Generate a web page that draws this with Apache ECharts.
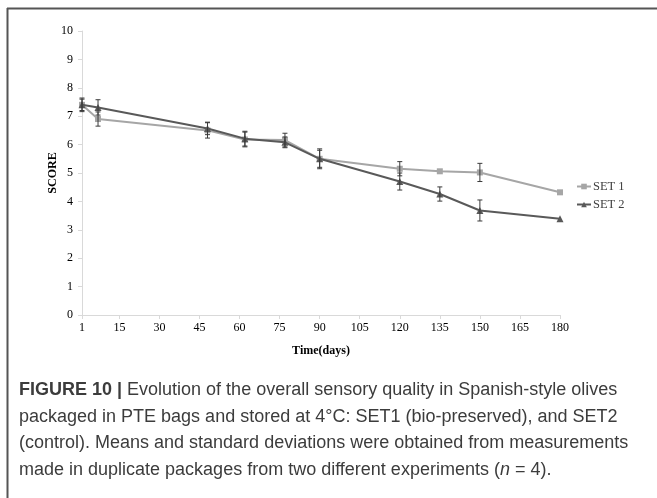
<!DOCTYPE html>
<html>
<head>
<meta charset="utf-8">
<script src="https://cdn.jsdelivr.net/npm/echarts@6/dist/echarts.min.js"></script>
<style>
html,body{margin:0;padding:0;background:#fff;}
#c{width:657px;height:498px;}
</style>
</head>
<body>
<div id="c"></div>
<script>
var days = [1, 7, 48, 62, 77, 90, 120, 135, 150, 180];
var set1 = [7.4, 6.9, 6.5, 6.18, 6.16, 5.5, 5.15, 5.06, 5.02, 4.32];
var set2 = [7.4, 7.31, 6.57, 6.21, 6.08, 5.5, 4.7, 4.26, 3.68, 3.39];
var set1Err = [0.2, 0.25, 0.27, 0.26, 0.24, 0.35, 0.25, 0, 0.32, 0];
var set2Err = [0.24, 0.27, 0.22, 0.26, 0.19, 0.3, 0.3, 0.25, 0.37, 0];
var xTicks = [1, 15, 30, 45, 60, 75, 90, 105, 120, 135, 150, 165, 180];
var seriesNames = ['SET 1', 'SET 2'];
var captionLines = [
  'Evolution of the overall sensory quality in Spanish-style olives',
  'packaged in PTE bags and stored at 4°C: SET1 (bio-preserved), and SET2',
  '(control). Means and standard deviations were obtained from measurements',
  'made in duplicate packages from two different experiments ('
];

function pairs(xs, ys) { return xs.map(function (x, i) { return [x, ys[i]]; }); }
function errData(xs, ys, es) {
  var out = [];
  xs.forEach(function (x, i) { if (es[i] > 0) out.push([x, ys[i] - es[i], ys[i] + es[i]]); });
  return out;
}
function errRender(params, api) {
  var x = api.value(0);
  var lo = api.coord([x, api.value(1)]);
  var hi = api.coord([x, api.value(2)]);
  var w = 2.5;
  var st = { stroke: '#3a3a3a', lineWidth: 1 };
  return {
    type: 'group',
    children: [
      { type: 'line', shape: { x1: lo[0], y1: lo[1], x2: hi[0], y2: hi[1] }, style: st },
      { type: 'line', shape: { x1: lo[0] - w, y1: lo[1], x2: lo[0] + w, y2: lo[1] }, style: st },
      { type: 'line', shape: { x1: hi[0] - w, y1: hi[1], x2: hi[0] + w, y2: hi[1] }, style: st }
    ]
  };
}

var chart = echarts.init(document.getElementById('c'), null, { renderer: 'canvas' });
var serif = 'Liberation Serif';
var capFont = 'Liberation Sans';
var capColor = '#3c3c3c';
var capX = 19, capY0 = 392, capDy = 26.6, capSize = 18;

var graphics = [
  { type: 'line', shape: { x1: 7.5, y1: 8, x2: 7.5, y2: 498 }, style: { stroke: '#555', lineWidth: 2 } },
  { type: 'line', shape: { x1: 7, y1: 8.5, x2: 657, y2: 8.5 }, style: { stroke: '#555', lineWidth: 2 } },
  {
    type: 'text', left: capX, top: capY0 - 11,
    style: {
      text: '{b|FIGURE 10 |} ' + captionLines[0],
      rich: { b: { fontWeight: 'bold', fontFamily: capFont, fontSize: capSize, fill: capColor } },
      fontFamily: capFont, fontSize: capSize, fill: capColor
    }
  },
  { type: 'text', left: capX, top: capY0 - 11 + capDy, style: { text: captionLines[1], fontFamily: capFont, fontSize: capSize, fill: capColor } },
  { type: 'text', left: capX, top: capY0 - 11 + 2 * capDy, style: { text: captionLines[2], fontFamily: capFont, fontSize: capSize, fill: capColor } },
  {
    type: 'text', left: capX, top: capY0 - 11 + 3 * capDy,
    style: {
      text: captionLines[3] + '{i|n} = 4).',
      rich: { i: { fontStyle: 'italic', fontFamily: capFont, fontSize: capSize, fill: capColor } },
      fontFamily: capFont, fontSize: capSize, fill: capColor
    }
  }
];

chart.setOption({
  animation: false,
  backgroundColor: '#fff',
  grid: { left: 82, top: 31, width: 478, height: 284 },
  legend: {
    orient: 'vertical', left: 571, top: 175, itemWidth: 14, itemHeight: 7, itemGap: 5,
    textStyle: { fontFamily: serif, fontSize: 12.5, color: '#404040', padding: [0, 0, 0, -3] },
    data: seriesNames
  },
  xAxis: {
    type: 'value', min: 1, max: 180,
    name: 'Time(days)', nameLocation: 'middle', nameGap: 30, nameMoveOverlap: false,
    nameTextStyle: { fontFamily: serif, fontSize: 12, fontWeight: 'bold', color: '#000' },
    axisLine: { lineStyle: { color: '#d9d9d9', width: 1 } },
    axisTick: { show: true, customValues: xTicks, length: 4, lineStyle: { color: '#d9d9d9' } },
    axisLabel: { customValues: xTicks, fontFamily: serif, fontSize: 12, color: '#000', margin: 7 },
    splitLine: { show: false }
  },
  yAxis: {
    type: 'value', min: 0, max: 10, interval: 1,
    name: 'SCORE', nameLocation: 'middle', nameGap: 23, nameRotate: 90, nameMoveOverlap: false,
    nameTextStyle: { fontFamily: serif, fontSize: 12, fontWeight: 'bold', color: '#000' },
    axisLine: { show: true, lineStyle: { color: '#d9d9d9', width: 1 } },
    axisTick: { show: true, length: 4, lineStyle: { color: '#d9d9d9' } },
    axisLabel: { fontFamily: serif, fontSize: 12, color: '#000', margin: 9 },
    splitLine: { show: false }
  },
  graphic: graphics,
  series: [
    {
      name: seriesNames[0], type: 'line', data: pairs(days, set1),
      symbol: 'rect', symbolSize: 6, z: 3,
      lineStyle: { color: '#a6a6a6', width: 2 }, itemStyle: { color: '#a6a6a6' }
    },
    {
      name: seriesNames[1], type: 'line', data: pairs(days, set2),
      symbol: 'triangle', symbolSize: 7, z: 4,
      lineStyle: { color: '#595959', width: 2 }, itemStyle: { color: '#595959' }
    },
    { type: 'custom', renderItem: errRender, data: errData(days, set1, set1Err), z: 5, silent: true },
    { type: 'custom', renderItem: errRender, data: errData(days, set2, set2Err), z: 5, silent: true }
  ]
});
</script>
</body>
</html>
